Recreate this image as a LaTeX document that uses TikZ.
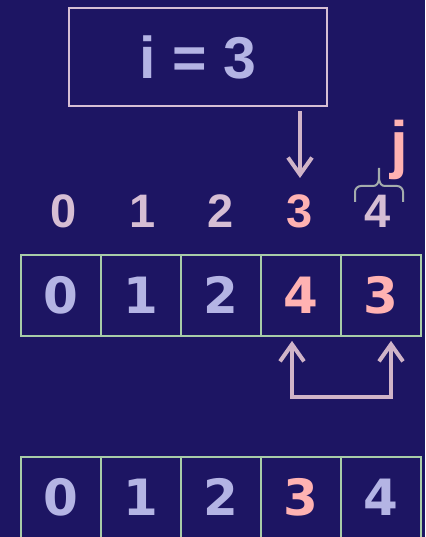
\documentclass[tikz,border=0pt]{standalone}
\usepackage{fontspec}
\setmainfont{Liberation Sans}
\newfontfamily\cellfont{DejaVu Sans}
\usepackage{xcolor}
\usepackage{tikz}
\usetikzlibrary{positioning, arrows.meta}
\definecolor{mNavy}{HTML}{1D1563}
\definecolor{mLav}{HTML}{B4B4E4}
\definecolor{mRose}{HTML}{D6BED4}
\definecolor{mSalmon}{HTML}{FFB2B2}
\definecolor{mGreen}{HTML}{A8CCA8}
\definecolor{mPtr}{HTML}{D0B4C8}
\definecolor{mGrey}{HTML}{A4ACAC}

\begin{document}
\begin{tikzpicture}[x=1pt, y=1pt,
      ibox/.style={draw=mRose, line width=1.8pt, minimum width=258pt,
                   minimum height=98pt, inner sep=0pt, text=mLav,
                   font=\bfseries\fontsize{59}{59}\selectfont},
      cell/.style={draw=mGreen, line width=1.8pt, minimum width=80pt,
                   minimum height=81pt, inner sep=0pt, text height=37pt,
                   text depth=0pt, font=\cellfont\bfseries\fontsize{50}{50}\selectfont},
      idx/.style={anchor=base, inner sep=0pt,
                  font=\bfseries\fontsize{47}{47}\selectfont},
      ptr/.style={-{Straight Barb[length=17pt, width=24pt]}, line width=4pt, mPtr},
      swp/.style={{Straight Barb[length=17pt, width=24pt]}-{Straight Barb[length=17pt, width=24pt]},
                  line width=4pt, mPtr}
    ]
    \useasboundingbox (0,0) rectangle (425,537);
    \fill[mNavy] (0,0) rectangle (425,537);

    \node[ibox] (ibox) at (198,480) {i = 3};

    % index row
    \foreach \v/\x/\c in {0/64/mRose, 1/143/mRose, 2/221/mRose, 3/300/mSalmon, 4/378/mRose}
      \node[idx, text=\c] (idx\v) at (\x,309) {\v};
    \node[idx, text=mSalmon, font=\bfseries\fontsize{64}{64}\selectfont] (jlab) at (399,370) {j};
    \draw[mGrey, line width=2pt] (355,335) -- (355,345) to[out=90,in=180] (361,351)
      -- (373,351) to[out=0,in=-90] (379,369) to[out=-90,in=180] (385,351)
      -- (397,351) to[out=0,in=90] (403,345) -- (403,335);

    \draw[ptr, shorten <=4pt, shorten >=17pt] (ibox.south -| idx3.north) -- (idx3.north);

    % arrays before and after the swap
    \foreach \v/\c [count=\k from 0] in {0/mLav, 1/mLav, 2/mLav, 4/mSalmon, 3/mSalmon}
      \node[cell, text=\c] (a\k) at ({61+80*\k},241.5) {\v};
    \foreach \v/\c [count=\k from 0] in {0/mLav, 1/mLav, 2/mLav, 3/mSalmon, 4/mLav}
      \node[cell, text=\c] (b\k) at ({61+80*\k},39.5) {\v};

    \draw[swp] ([xshift=-9pt, yshift=-4pt]a3.south) -- ++(0,-56)
      -| ([xshift=10pt, yshift=-4pt]a4.south);
  \end{tikzpicture}
\end{document}
